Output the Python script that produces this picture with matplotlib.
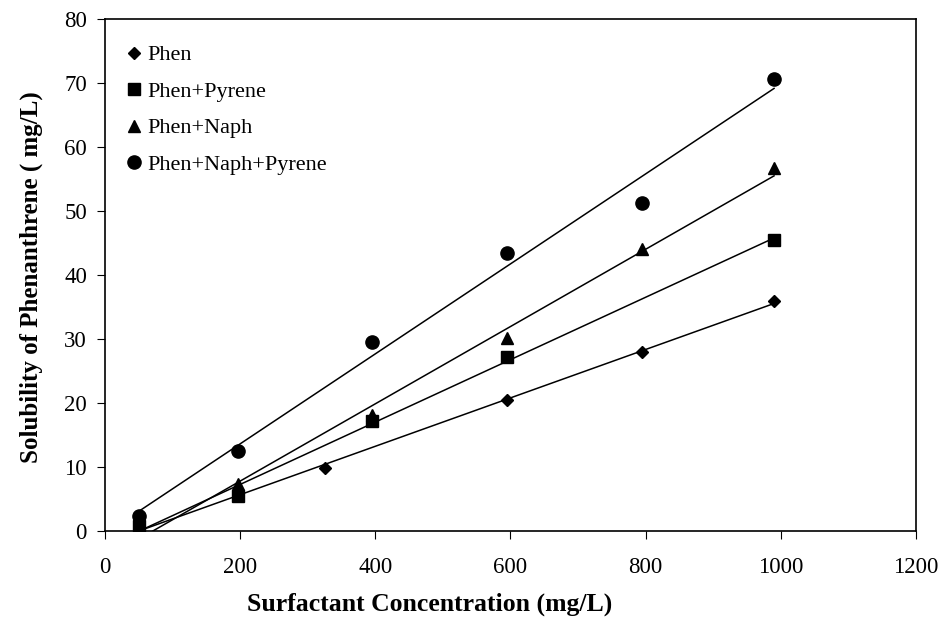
import numpy as np
import matplotlib.pyplot as plt

plt.rcParams['font.family'] = ['Liberation Serif', 'DejaVu Serif']

# data
x_phen = [50, 197, 325, 595, 795, 990]
y_phen = [0.5, 5.6, 9.8, 20.5, 27.9, 36.0]

x_pyr = [50, 197, 395, 595, 990]
y_pyr = [0.8, 5.5, 17.2, 27.2, 45.5]

x_naph = [50, 197, 395, 595, 795, 990]
y_naph = [0.5, 7.3, 18.1, 30.2, 44.0, 56.7]

x_all = [50, 197, 395, 595, 795, 990]
y_all = [2.4, 12.5, 29.6, 43.5, 51.2, 70.6]

labels = ['Phen', 'Phen+Pyrene', 'Phen+Naph', 'Phen+Naph+Pyrene']
markers = ['D', 's', '^', 'o']
msizes = [6.5, 8, 8.5, 9.5]

fig = plt.figure(figsize=(9.41, 6.27), dpi=100)
ax = fig.add_axes([0.1116, 0.1531, 0.8618, 0.8166])

series = [(x_phen, y_phen), (x_pyr, y_pyr), (x_naph, y_naph), (x_all, y_all)]
for (xs, ys), lab, m, ms in zip(series, labels, markers, msizes):
    ax.plot(xs, ys, linestyle='none', marker=m, markersize=ms, color='black', label=lab)
    # linear trendline
    k, b = np.polyfit(xs, ys, 1)
    xl = np.array([min(xs), max(xs)])
    ax.plot(xl, k * xl + b, color='black', linewidth=1.1)

ax.set_xlim(0, 1200)
ax.set_ylim(0, 80)
ax.set_xticks(range(0, 1201, 200))
ax.set_yticks(range(0, 81, 10))
ax.tick_params(direction='out', length=6, labelsize=16.5, colors='black')
ax.tick_params(axis='x', pad=13)
ax.tick_params(axis='y', pad=7)
for s in ax.spines.values():
    s.set_linewidth(1.2)
    s.set_color('black')

ax.set_xlabel('Surfactant Concentration (mg/L)', fontsize=18.5, fontweight='bold')
ax.set_ylabel('Solubility of Phenanthrene ( mg/L)', fontsize=18, fontweight='bold')
ax.xaxis.set_label_coords(0.40, -0.121)
ax.yaxis.set_label_coords(-0.076, 0.495)

ax.legend(loc='upper left', bbox_to_anchor=(0.01, 0.98), frameon=False, fontsize=16,
          handlelength=0.5, handletextpad=0.35, labelspacing=0.72, borderaxespad=0.3)

fig.savefig('out.png', dpi=100)
